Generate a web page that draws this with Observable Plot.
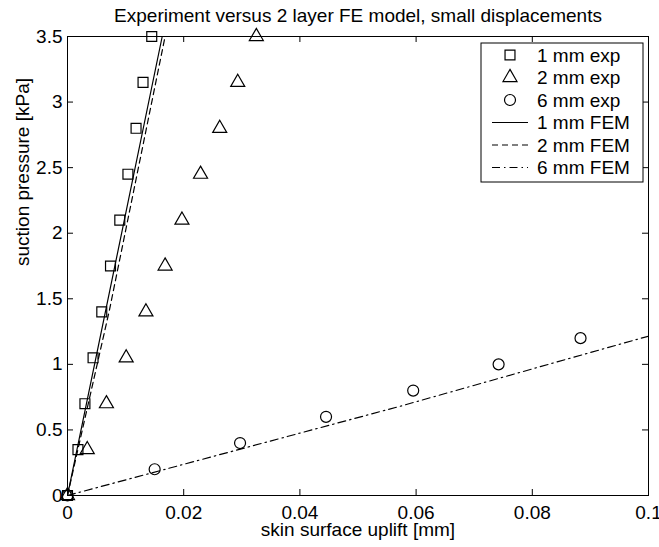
<!DOCTYPE html>
<html><head><meta charset="utf-8">
<script src="https://cdn.jsdelivr.net/npm/d3@7"></script>
<script src="https://cdn.jsdelivr.net/npm/@observablehq/plot@0.6"></script>
<style>
html,body{margin:0;padding:0;background:#fff;}
#chart{width:659px;height:547px;}
svg{display:block;}
</style></head><body><div id="chart"></div>
<script>
// ---- texts ----
const titleText = "Experiment versus 2 layer FE model, small displacements";
const xLabel = "skin surface uplift [mm]";
const yLabel = "suction pressure [kPa]";
// ---- ticks ----
const xTicks = [0, 0.02, 0.04, 0.06, 0.08, 0.1];
const yTicks = [0, 0.5, 1, 1.5, 2, 2.5, 3, 3.5];
// ---- experiment data ----
const pressure1 = [0, 0.35, 0.7, 1.05, 1.4, 1.75, 2.1, 2.45, 2.8, 3.15, 3.5];
const uplift1   = [0, 0.0018, 0.0030, 0.0044, 0.0059, 0.0074, 0.0090, 0.0104, 0.0118, 0.0130, 0.0145];
const pressure2 = [0, 0.35, 0.7, 1.05, 1.4, 1.75, 2.1, 2.45, 2.8, 3.15, 3.5];
const uplift2   = [0, 0.0034, 0.0067, 0.0101, 0.0135, 0.0168, 0.0197, 0.0229, 0.0262, 0.0293, 0.0325];
const pressure6 = [0, 0.2, 0.4, 0.6, 0.8, 1.0, 1.2];
const uplift6   = [0, 0.0150, 0.0297, 0.0445, 0.0595, 0.0742, 0.0883];
// ---- FEM curves ----
const femUplift1   = [0, 0.0163];
const femPressure1 = [0, 3.5];
const femUplift2   = [0, 0.0072, 0.0168];
const femPressure2 = [0, 1.41, 3.5];
const femUplift6   = [0, 0.0572, 0.1];
const femPressure6 = [0, 0.68, 1.215];
// ---- legend ----
const legendLabels = ["1 mm exp", "2 mm exp", "6 mm exp", "1 mm FEM", "2 mm FEM", "6 mm FEM"];

const zip = (xs, ys) => xs.map((x, i) => ({x, y: ys[i]}));
const exp1 = zip(uplift1, pressure1), exp2 = zip(uplift2, pressure2), exp6 = zip(uplift6, pressure6);
const fem1 = zip(femUplift1, femPressure1), fem2 = zip(femUplift2, femPressure2), fem6 = zip(femUplift6, femPressure6);

const W = 659, H = 547;
const mL = 67, mR = 11, mT = 36, mB = 52;
const fw = W - mL - mR, fh = H - mT - mB;
const tick = 6;
const font = "'Liberation Sans', Arial, Helvetica, sans-serif";
const fs = 19;
const dashStyle = "6,4", dashDotStyle = "8,4,1.5,4";
const rSq = 5.6, rTri = 5.2, rCirc = 5.5, lw = 1.2;

const chart = Plot.plot({
  width: W, height: H,
  marginLeft: mL, marginRight: mR, marginTop: mT, marginBottom: mB,
  style: {fontFamily: font, fontSize: fs + "px", background: "white", color: "black"},
  x: {domain: [0, 0.1]},
  y: {domain: [0, 3.5]},
  marks: [
    Plot.frame({stroke: "black", strokeWidth: 1}),
    Plot.tickX(xTicks, {x: d => d, insetTop: fh - tick, stroke: "black"}),
    Plot.tickX(xTicks, {x: d => d, insetBottom: fh - tick, stroke: "black"}),
    Plot.tickY(yTicks, {y: d => d, insetRight: fw - tick, stroke: "black"}),
    Plot.tickY(yTicks, {y: d => d, insetLeft: fw - tick, stroke: "black"}),
    Plot.axisX(xTicks, {tickSize: 0, tickPadding: 10, tickFormat: d => String(d), label: null, fontSize: fs}),
    Plot.axisY(yTicks, {tickSize: 0, tickPadding: 5, tickFormat: d => String(d), label: null, fontSize: fs}),
    Plot.line(fem1, {x: "x", y: "y", stroke: "black", strokeWidth: lw, clip: true}),
    Plot.line(fem2, {x: "x", y: "y", stroke: "black", strokeWidth: lw, strokeDasharray: dashStyle, clip: true}),
    Plot.line(fem6, {x: "x", y: "y", stroke: "black", strokeWidth: lw, strokeDasharray: dashDotStyle, clip: true}),
    Plot.dot(exp1, {x: "x", y: "y", symbol: "square", r: rSq, stroke: "black", strokeWidth: lw, fill: "none"}),
    Plot.dot(exp2, {x: "x", y: "y", symbol: "triangle", r: rTri, stroke: "black", strokeWidth: lw, fill: "none"}),
    Plot.dot(exp6, {x: "x", y: "y", symbol: "circle", r: rCirc, stroke: "black", strokeWidth: lw, fill: "none"}),
    Plot.text([titleText], {text: d => d, frameAnchor: "top", lineAnchor: "bottom", dy: -15, fontSize: fs, fill: "black"}),
    Plot.text([xLabel], {text: d => d, frameAnchor: "bottom", lineAnchor: "bottom", dy: 40, fontSize: fs, fill: "black"}),
    Plot.text([yLabel], {text: d => d, frameAnchor: "left", lineAnchor: "bottom", rotate: -90, dx: -39, fontSize: fs, fill: "black"})
  ]
});
document.getElementById("chart").appendChild(chart);

// ---- legend (drawn in the same svg) ----
const svg = d3.select(chart.tagName.toLowerCase() === "svg" ? chart : chart.querySelector("svg"));
const box = {x0: 481, y0: 43, x1: 643, y1: 182};
const rowTop = 55, rowStep = 22.5, markX = 510, lineX0 = 492, lineX1 = 528, textX = 537;
const g = svg.append("g").attr("font-family", font).attr("font-size", fs).attr("text-anchor", "start");
g.append("rect").attr("x", box.x0).attr("y", box.y0).attr("width", box.x1 - box.x0).attr("height", box.y1 - box.y0)
  .attr("fill", "white").attr("stroke", "black").attr("stroke-width", 1);
const legendSym = [
  {sym: d3.symbolSquare, r: rSq},
  {sym: d3.symbolTriangle, r: rTri},
  {sym: d3.symbolCircle, r: rCirc}
];
const dashes = [null, dashStyle, dashDotStyle];
legendLabels.forEach((lab, i) => {
  const cy = rowTop + i * rowStep;
  if (i < 3) {
    const s = legendSym[i];
    g.append("path").attr("d", d3.symbol(s.sym, Math.PI * s.r * s.r)())
      .attr("transform", `translate(${markX},${cy})`)
      .attr("fill", "none").attr("stroke", "black").attr("stroke-width", lw);
  } else {
    const ln = g.append("line").attr("x1", lineX0).attr("x2", lineX1).attr("y1", cy).attr("y2", cy)
      .attr("stroke", "black").attr("stroke-width", lw);
    if (dashes[i - 3]) ln.attr("stroke-dasharray", dashes[i - 3]);
  }
  g.append("text").attr("x", textX).attr("y", cy).attr("dy", "0.35em").attr("text-anchor", "start")
    .attr("fill", "black").text(lab);
});
</script>
</body></html>
